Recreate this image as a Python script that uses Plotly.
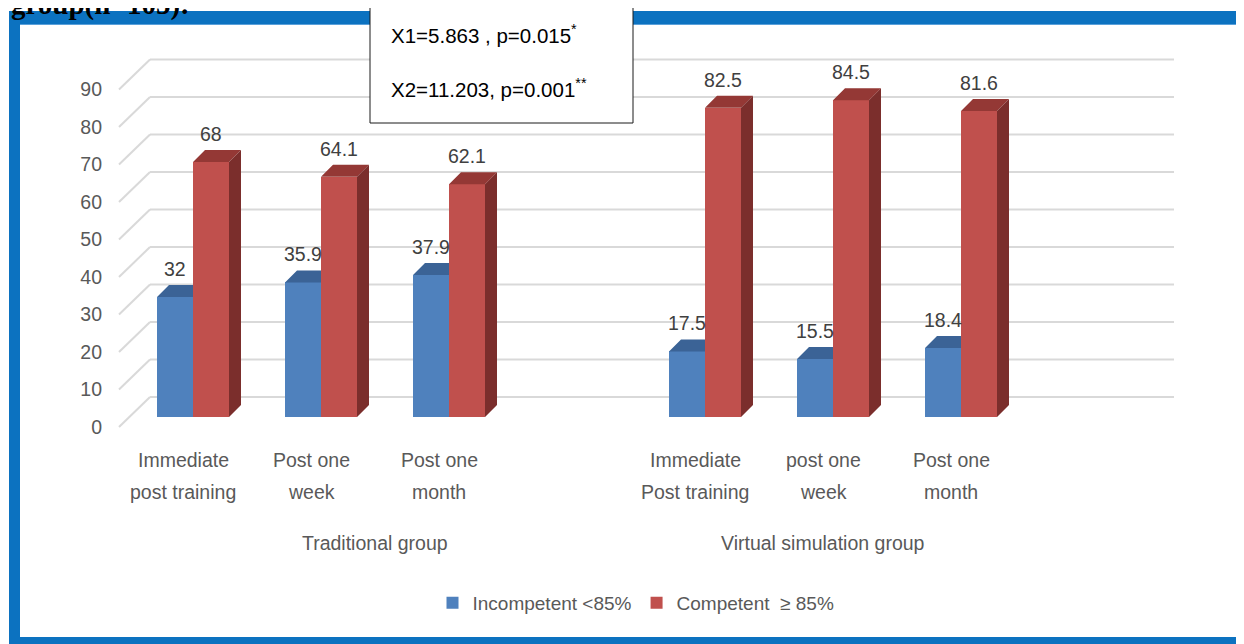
import plotly.graph_objects as go

# ---------------- data ----------------
groups = ["Traditional group", "Virtual simulation group"]
label_line1 = ["Immediate", "Post one", "Post one", "Immediate", "post one", "Post one"]
label_line2 = ["post training", "week", "month", "Post training", "week", "month"]
group_of = [0, 0, 0, 1, 1, 1]
incompetent = [32, 35.9, 37.9, 17.5, 15.5, 18.4]
competent = [68, 64.1, 62.1, 82.5, 84.5, 81.6]
series_names = ["Incompetent <85%", "Competent  \u2265 85%"]
y_ticks = [0, 10, 20, 30, 40, 50, 60, 70, 80, 90]
stats_lines = ["X1=5.863 , p=0.015", "X2=11.203, p=0.001"]
stats_marks = ["*", "**"]
heading = "group(n=105):"

# ---------------- layout constants (screen pixels) ----------------
SW, SH = 1244, 644   # window
OFF = 8              # default page body margin
FW, FH = SW - OFF, SH - OFF
L, R, T, B = 106, 1200, 30, 470
SLOT_PX = 128.0      # width of one category slot
X0_PX = 183.0        # pixel of first slot centre on the front plane
UNIT_PX = 3.75       # pixels per value unit
ZERO_PX = 427.0      # pixel of value 0 on the front plane
SLOTS_PER_GROUP = 4
FRONT_D = 10.0       # bar front face depth offset
BAR_DEPTH = 12.0     # bar depth
WALL_DX, WALL_DY = 31.0, 30.0
BAR_W = 36.0

kx = 1.0 / SLOT_PX
ky = 1.0 / UNIT_PX
xr = [(L - X0_PX) / SLOT_PX, (R - X0_PX) / SLOT_PX]
yr = [(ZERO_PX - B) / UNIT_PX, (ZERO_PX - T) / UNIT_PX]


def px2paper(px):
    return (px - L) / (R - L)


def py2paper(py):
    return (B - py) / (B - T)


slots = [g * SLOTS_PER_GROUP + k for g, k in zip(group_of, [0, 1, 2, 0, 1, 2])]
n_slots = SLOTS_PER_GROUP * len(groups)

BLUE, BLUE_TOP = "#4F81BD", "#3B6396"
RED, RED_TOP, RED_SIDE = "#C0504D", "#943835", "#7B2E2C"
TXT = "#595959"
FONT = "Liberation Sans, Arial, sans-serif"
FS = 19.5

base = FRONT_D * ky
d = BAR_DEPTH
blue_x = [s + (FRONT_D - BAR_W / 2) * kx for s in slots]
red_x = [s + (FRONT_D + BAR_W / 2) * kx for s in slots]

fig = go.Figure()
fig.add_trace(go.Bar(x=blue_x, y=incompetent, base=base, width=BAR_W * kx,
                     marker=dict(color=BLUE, line=dict(width=0)), name=series_names[0]))
fig.add_trace(go.Bar(x=red_x, y=competent, base=base, width=BAR_W * kx,
                     marker=dict(color=RED, line=dict(width=0)), name=series_names[1]))


def faces(xc, vals, kind, clip_right=False):
    xs, ys = [], []
    for c, v in zip(xc, vals):
        x0 = c - BAR_W / 2 * kx
        x1 = c + BAR_W / 2 * kx
        top = v + base
        if kind == "top":
            if clip_right:
                px = [x0, x1, x1, x0 + d * kx]
            else:
                px = [x0, x1, x1 + d * kx, x0 + d * kx]
            py = [top, top, top + d * ky, top + d * ky]
        else:
            px = [x1, x1, x1 + d * kx, x1 + d * kx]
            py = [base, top, top + d * ky, base + d * ky]
        xs += px + [px[0], None]
        ys += py + [py[0], None]
    return xs, ys


for xc, vals, kind, col, clip in [(blue_x, incompetent, "top", BLUE_TOP, True),
                                  (red_x, competent, "top", RED_TOP, False),
                                  (red_x, competent, "side", RED_SIDE, False)]:
    fx, fy = faces(xc, vals, kind, clip)
    fig.add_trace(go.Scatter(x=fx, y=fy, mode="lines", fill="toself", fillcolor=col,
                             line=dict(width=0, color=col), showlegend=False,
                             hoverinfo="skip"))

shapes = []
# back wall gridlines + left side diagonals
for t in y_ticks:
    shapes.append(dict(type="line", xref="x", yref="y", layer="below",
                       x0=-0.5 + WALL_DX * kx, x1=n_slots - 0.5 + WALL_DX * kx,
                       y0=t + WALL_DY * ky, y1=t + WALL_DY * ky,
                       line=dict(color="#D9D9D9", width=2)))
    shapes.append(dict(type="line", xref="x", yref="y", layer="below",
                       x0=-0.5, x1=-0.5 + WALL_DX * kx,
                       y0=t, y1=t + WALL_DY * ky,
                       line=dict(color="#D9D9D9", width=2)))

# blue frame
FRAME = "#0C72C0"
for (a, b_, c, e) in [(9, 1260, 11, 24), (9, 20, 11, 660), (9, 1260, 637, 660)]:
    shapes.append(dict(type="rect", xref="paper", yref="paper", layer="above",
                       x0=px2paper(a), x1=px2paper(b_), y0=py2paper(c), y1=py2paper(e),
                       fillcolor=FRAME, line=dict(width=0)))
shapes.append(dict(type="line", xref="paper", yref="paper", layer="above",
                   x0=px2paper(20), x1=px2paper(1260), y0=py2paper(24.5), y1=py2paper(24.5),
                   line=dict(color="#5AA0DA", width=1)))
# statistics box
shapes.append(dict(type="rect", xref="paper", yref="paper", layer="above",
                   x0=px2paper(370), x1=px2paper(633), y0=py2paper(7), y1=py2paper(123),
                   fillcolor="white", line=dict(color="#1a1a1a", width=1)))

annotations = []
# data labels
for xc, vals in [(blue_x, incompetent), (red_x, competent)]:
    for c, v in zip(xc, vals):
        annotations.append(dict(x=c, y=v + base, xref="x", yref="y", text=f"{v:g}",
                                showarrow=False, yanchor="middle", yshift=28,
                                font=dict(family=FONT, size=FS, color="#404040")))
# category labels
for s, l1, l2 in zip(slots, label_line1, label_line2):
    annotations.append(dict(x=s, y=py2paper(460), xref="x", yref="paper", text=l1,
                            showarrow=False, yanchor="middle",
                            font=dict(family=FONT, size=FS, color=TXT)))
    annotations.append(dict(x=s, y=py2paper(492), xref="x", yref="paper", text=l2,
                            showarrow=False, yanchor="middle",
                            font=dict(family=FONT, size=FS, color=TXT)))
# group labels
for g, name in enumerate(groups):
    members = [s for s, gg in zip(slots, group_of) if gg == g]
    if g == 0:
        members = members + [g * SLOTS_PER_GROUP + SLOTS_PER_GROUP - 1]
    cx = (min(members) + max(members)) / 2
    annotations.append(dict(x=cx, y=py2paper(543), xref="x", yref="paper", text=name,
                            showarrow=False, yanchor="middle",
                            font=dict(family=FONT, size=FS, color=TXT)))
# statistics text
for i, (line, mark) in enumerate(zip(stats_lines, stats_marks)):
    annotations.append(dict(x=px2paper(389), y=py2paper(34 + 54 * i), xref="paper", yref="paper",
                            text=f"{line}<sup>{mark}</sup>", showarrow=False,
                            xanchor="left", yanchor="middle",
                            font=dict(family=FONT, size=20.5, color="black")))
# heading (cropped at top, as in the source)
annotations.append(dict(x=px2paper(9), y=py2paper(23), xref="paper", yref="paper",
                        text=f"<b>{heading}</b>", showarrow=False, xanchor="left",
                        yanchor="bottom",
                        font=dict(family="Liberation Serif, Times New Roman, serif",
                                  size=29, color="black")))

fig.update_layout(
    width=FW, height=FH,
    margin=dict(l=L - OFF, r=SW - R, t=T - OFF, b=SH - B, pad=0),
    paper_bgcolor="white", plot_bgcolor="white",
    barmode="overlay", bargap=0,
    showlegend=True,
    legend=dict(orientation="h", x=px2paper(636), xanchor="center",
                y=py2paper(603), yanchor="middle",
                font=dict(family=FONT, size=19, color=TXT),
                bgcolor="rgba(0,0,0,0)"),
    xaxis=dict(range=xr, showgrid=False, zeroline=False, showline=False,
               showticklabels=False, ticks="", fixedrange=True),
    yaxis=dict(range=yr, showgrid=False, zeroline=False, showline=False,
               tickvals=y_ticks, ticks="", ticklabelstandoff=3,
               tickfont=dict(family=FONT, size=FS, color=TXT), fixedrange=True),
    shapes=shapes,
    annotations=annotations,
)

fig.write_html("out.html")
